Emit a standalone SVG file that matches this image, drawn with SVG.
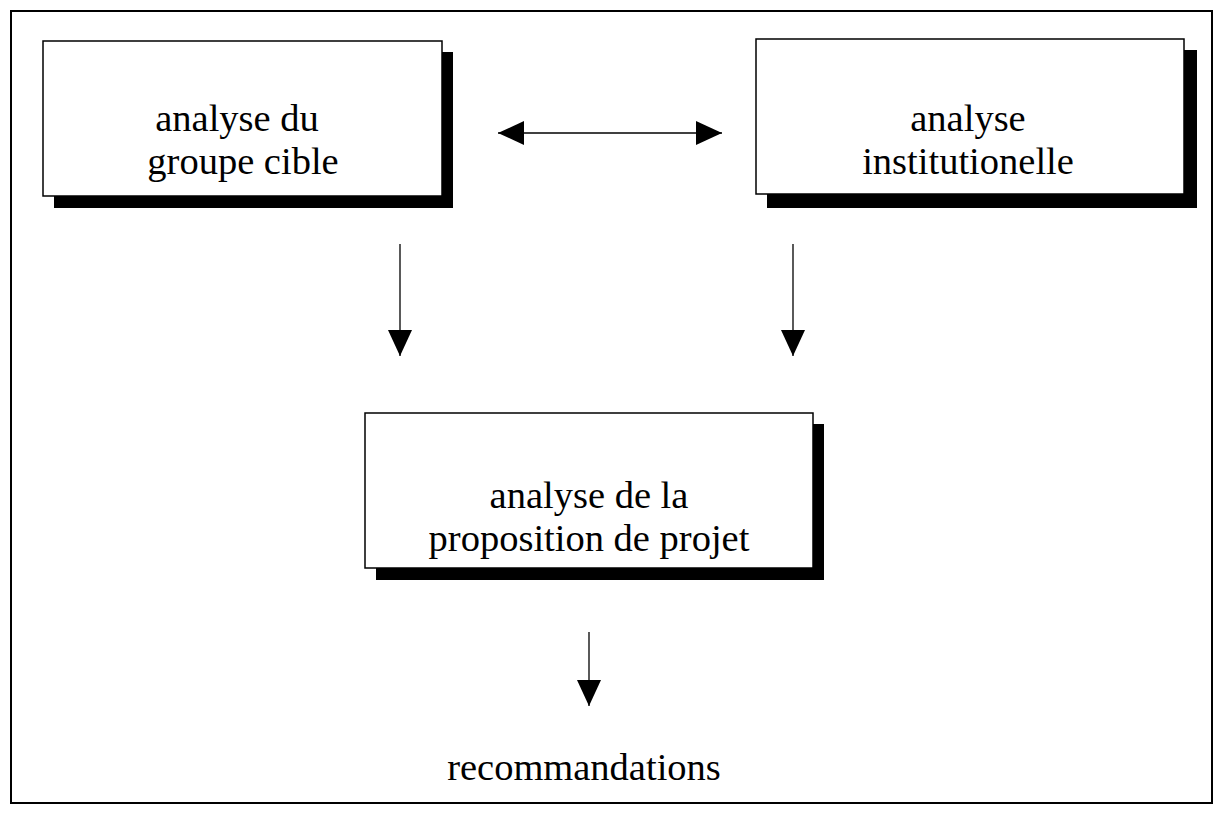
<svg xmlns="http://www.w3.org/2000/svg" width="1232" height="819" viewBox="0 0 1232 819">
<defs>
<style>
.frame{fill:none;stroke:#000;stroke-width:2}
.box{fill:#fff;stroke:#000;stroke-width:1.5}
.shadow{fill:#000}
.lbl{font-family:"Liberation Serif","Times New Roman",serif;font-size:38.5px;fill:#000;text-anchor:middle}
.conn{stroke:#000;stroke-width:1.3;fill:none}
</style>
<marker id="ahb" viewBox="0 0 26 24" refX="26" refY="12" markerWidth="26" markerHeight="24" markerUnits="userSpaceOnUse" orient="auto-start-reverse">
<path d="M0,0 L26,12 L0,24 Z" fill="#000"/>
</marker>
</defs>
<rect x="0" y="0" width="1232" height="819" fill="#fff"/>
<rect class="frame" x="11" y="11" width="1201" height="792"/>
<g id="node-groupe-cible">
<rect class="shadow" x="54" y="52" width="399" height="156"/>
<rect class="box" x="43" y="41" width="399" height="155"/>
<text class="lbl" x="237" y="131">analyse du</text>
<text class="lbl" x="243" y="174">groupe cible</text>
</g>
<g id="node-institutionelle">
<rect class="shadow" x="767" y="50" width="430" height="158"/>
<rect class="box" x="756" y="39" width="428" height="155"/>
<text class="lbl" x="968" y="131">analyse</text>
<text class="lbl" x="968" y="174">institutionelle</text>
</g>
<g id="node-proposition">
<rect class="shadow" x="376" y="424" width="448" height="156"/>
<rect class="box" x="365" y="413" width="448" height="155"/>
<text class="lbl" x="589" y="508">analyse de la</text>
<text class="lbl" x="589" y="551">proposition de projet</text>
</g>
<g id="node-recommandations">
<text class="lbl" x="584" y="780">recommandations</text>
</g>
<g id="connectors">
<line class="conn" x1="498" y1="133" x2="722" y2="133" marker-start="url(#ahb)" marker-end="url(#ahb)"/>
<line class="conn" x1="400" y1="244" x2="400" y2="356" marker-end="url(#ahb)"/>
<line class="conn" x1="793" y1="244" x2="793" y2="356" marker-end="url(#ahb)"/>
<line class="conn" x1="589" y1="632" x2="589" y2="706" marker-end="url(#ahb)"/>
</g>
</svg>
